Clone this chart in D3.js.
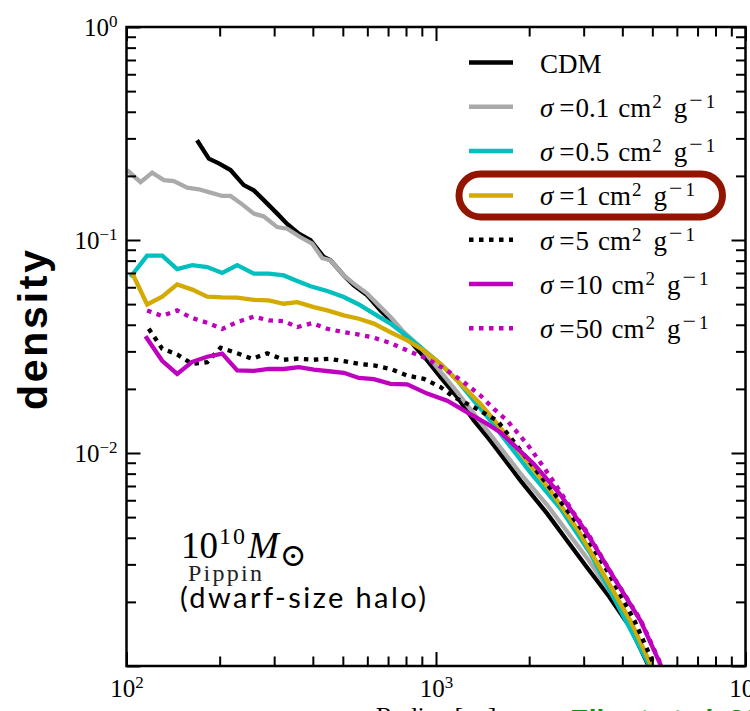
<!DOCTYPE html>
<html>
<head>
<meta charset="utf-8">
<script src="https://cdn.jsdelivr.net/npm/d3@7"></script>
<style>
  body { margin: 0; background: #fff; }
  svg { display: block; }
</style>
</head>
<body>
<svg id="chart" width="750" height="711"></svg>
<script>
// Density profiles of the Pippin dwarf halo: [radius (pc), density]
const cdm = [[169,0.294],[184.5,0.241],[198.7,0.229],[216.8,0.213],[239.3,0.181],[257.8,0.171],[281.3,0.151],[306.9,0.133],[330.5,0.119],[360.4,0.107],[393.2,0.0997],[434.1,0.0832],[456.3,0.0803],[503.6,0.0682],[542.6,0.0612],[599.6,0.0550],[661.9,0.0467],[722,0.0412],[787.2,0.0363],[847.9,0.0320],[936.7,0.0272],[1034,0.0227],[1171,0.0183],[1325,0.0142],[1500,0.0114],[1875,0.00742],[2287,0.00519],[2654,0.00387],[3081,0.00289],[3574,0.00218],[4250,0.00151],[4896,0.00098]];
const sigma01 = [[100.5,0.213],[111,0.187],[121.1,0.207],[132,0.191],[142.2,0.189],[157.1,0.176],[171.3,0.173],[186.8,0.167],[203.8,0.161],[216.8,0.161],[236.6,0.147],[257.8,0.133],[277.8,0.129],[306.9,0.115],[330.5,0.113],[365,0.103],[398.1,0.0962],[428.9,0.0823],[456.3,0.0803],[503.6,0.0682],[542.6,0.0624],[599.6,0.0560],[661.9,0.0484],[712.9,0.0435],[787.2,0.0369],[891.2,0.0314],[1034,0.0241],[1171,0.0193],[1325,0.0153],[1500,0.0122],[1875,0.0080],[2287,0.0057],[3081,0.0032],[3663,0.00222],[4314,0.00152],[4932,0.00098]];
const sigma05 = [[103,0.067],[116.6,0.0845],[130.4,0.0845],[145.8,0.073],[163.1,0.0762],[182.3,0.0746],[203.8,0.0700],[227.9,0.0762],[257.8,0.0695],[288.3,0.0695],[322.2,0.0682],[356.1,0.0642],[393.2,0.0606],[445.2,0.0576],[503.6,0.0540],[563.2,0.0498],[629.8,0.0451],[712.9,0.0405],[787.2,0.0363],[891.2,0.0314],[1034,0.0262],[1171,0.0219],[1325,0.0176],[1500,0.0142],[1698,0.0112],[2020,0.00809],[2525,0.00548],[3157,0.00336],[3802,0.00202],[4932,0.00098]];
const sigma1 = [[104.3,0.0700],[116.6,0.0498],[130.4,0.0542],[145.8,0.0619],[163.1,0.0585],[182.3,0.0542],[203.8,0.0538],[227.9,0.0536],[257.8,0.0524],[288.3,0.0521],[322.2,0.0502],[356.1,0.0511],[402.9,0.0484],[445.2,0.0467],[503.6,0.0443],[563.2,0.0427],[629.8,0.0405],[712.9,0.0369],[807.4,0.0338],[913.3,0.0303],[1034,0.0262],[1230,0.0204],[1393,0.0170],[1577,0.0137],[1875,0.0100],[2344,0.00665],[2887,0.00432],[3503,0.00265],[4250,0.00163],[5006,0.00098]];
const sigma5 = [[118,0.0383],[130.4,0.0309],[145.8,0.0290],[163.1,0.0262],[182.3,0.0267],[201.3,0.0312],[227.9,0.0294],[254.8,0.0277],[284.9,0.0294],[322.2,0.0274],[356.1,0.0277],[402.9,0.0274],[450.6,0.0277],[503.6,0.0270],[563.2,0.0262],[629.8,0.0258],[712.9,0.0248],[807.4,0.0231],[913.3,0.0223],[1034,0.0204],[1142,0.0183],[1325,0.0164],[1577,0.0142],[1875,0.0103],[2344,0.00680],[2930,0.00446],[3609,0.00274],[4379,0.00163],[5119,0.00098]];
const sigma10 = [[115.2,0.0353],[130.4,0.0271],[145.8,0.0235],[163.1,0.0268],[182.3,0.0283],[203.8,0.0293],[227.9,0.0244],[257.8,0.0243],[288.3,0.0248],[322.2,0.0248],[360.4,0.0253],[402.9,0.0246],[450.6,0.0242],[503.6,0.0238],[563.2,0.0225],[629.8,0.0222],[712.9,0.0211],[807.4,0.0210],[936.7,0.0190],[1087,0.0176],[1262,0.0155],[1464,0.0137],[1616,0.0125],[2070,0.00889],[2525,0.00637],[3081,0.00418],[3754,0.00260],[4580,0.00163],[5373,0.00098]];
const sigma50 = [[116.6,0.0467],[130.4,0.0440],[145.8,0.0467],[163.1,0.0430],[182.3,0.0409],[203.8,0.0382],[227.9,0.0412],[257.8,0.0437],[288.3,0.0419],[322.2,0.0416],[356.1,0.0390],[398.1,0.0407],[445.2,0.0383],[503.6,0.0369],[563.2,0.0360],[629.8,0.0348],[712.9,0.0328],[807.4,0.0303],[936.7,0.0277],[1087,0.0244],[1230,0.0215],[1393,0.0186],[1538,0.0161],[1698,0.0142],[1971,0.0110],[2231,0.00857],[2470,0.00688],[2781,0.00525],[3087,0.00422],[3746,0.00262],[4580,0.00165],[5394,0.00098]];

// Legend entries: cross-section label (null = CDM), colour, dotted flag
const crossSections = [null, "0.1", "0.5", "1", "5", "10", "50"];
const seriesColors = ["#000000", "#aaaaaa", "#00bfbf", "#d4aa00", "#000000", "#bf00bf", "#bf00bf"];
const seriesDotted = [false, false, false, false, true, false, true];
const seriesData = [cdm, sigma01, sigma05, sigma1, sigma5, sigma10, sigma50];

const xDomain = [100, 10000];
const yDomain = [1e-3, 1];
const yLabelled = [1, 0.1, 0.01];

const svg = d3.select("#chart");
svg.append("rect").attr("width", 750).attr("height", 711).attr("fill", "#fff");

const plotLeft = 126.5, plotRight = 745.5, plotTop = 27, plotBottom = 666;
const x = d3.scaleLog().domain(xDomain).range([plotLeft, plotRight]);
const y = d3.scaleLog().domain(yDomain).range([plotBottom, plotTop]);

const serif = "'Liberation Serif', 'DejaVu Serif', serif";

// clip for the curves
svg.append("defs").append("clipPath").attr("id", "plotClip")
  .append("rect").attr("x", plotLeft).attr("y", plotTop)
  .attr("width", plotRight - plotLeft).attr("height", plotBottom - plotTop);

// curves
const line = d3.line().x(d => x(d[0])).y(d => y(d[1]));
const curves = svg.append("g").attr("clip-path", "url(#plotClip)");
seriesData.forEach((data, i) => {
  curves.append("path")
    .datum(data)
    .attr("d", line)
    .attr("fill", "none")
    .attr("stroke", seriesColors[i])
    .attr("stroke-width", 4.3)
    .attr("stroke-linejoin", "miter")
    .attr("stroke-dasharray", seriesDotted[i] ? "4.5,5.5" : null);
});

// axes: inward ticks on all four sides
const isMajor = v => Math.abs(Math.log10(v) - Math.round(Math.log10(v))) < 1e-9;
const xMajor = x.ticks().filter(isMajor), xMinor = x.ticks().filter(v => !isMajor(v));
const yMajor = y.ticks().filter(isMajor), yMinor = y.ticks().filter(v => !isMajor(v));
const majorLen = 14, minorLen = 9.5;

function styleAxis(g) {
  g.select(".domain").remove();
  g.selectAll(".tick line").attr("stroke", "#000").attr("stroke-width", 2);
}
function powerLabel(g) {
  g.selectAll(".tick text").each(function(d) {
    const t = d3.select(this);
    const e = Math.round(Math.log10(d));
    t.text(null);
    t.append("tspan").text("10");
    t.append("tspan").attr("dy", -9).attr("font-size", 17).text(e < 0 ? "\u2212" + (-e) : String(e));
  });
}

// bottom
svg.append("g").attr("transform", `translate(0,${plotBottom})`)
  .call(d3.axisBottom(x).tickValues(xMinor).tickSize(-minorLen).tickFormat(""))
  .call(styleAxis);
svg.append("g").attr("transform", `translate(0,${plotBottom})`)
  .call(d3.axisBottom(x).tickValues(xMajor).tickSize(-majorLen).tickPadding(13))
  .call(styleAxis)
  .call(g => g.selectAll(".tick text").attr("font-family", serif).attr("font-size", 25).attr("fill", "#000"))
  .call(powerLabel);
// top
svg.append("g").attr("transform", `translate(0,${plotTop})`)
  .call(d3.axisTop(x).tickValues(xMinor).tickSize(-minorLen).tickFormat(""))
  .call(styleAxis);
svg.append("g").attr("transform", `translate(0,${plotTop})`)
  .call(d3.axisTop(x).tickValues(xMajor).tickSize(-majorLen).tickFormat(""))
  .call(styleAxis);
// left
svg.append("g").attr("transform", `translate(${plotLeft},0)`)
  .call(d3.axisLeft(y).tickValues(yMinor).tickSize(-minorLen).tickFormat(""))
  .call(styleAxis);
svg.append("g").attr("transform", `translate(${plotLeft},0)`)
  .call(d3.axisLeft(y).tickValues(yMajor).tickSize(-majorLen).tickFormat(""))
  .call(styleAxis);
svg.append("g").attr("transform", `translate(${plotLeft},0)`)
  .call(d3.axisLeft(y).tickValues(yLabelled).tickSize(0).tickPadding(9))
  .call(styleAxis)
  .call(g => g.selectAll(".tick text").attr("font-family", serif).attr("font-size", 25).attr("fill", "#000"))
  .call(powerLabel);
// right
svg.append("g").attr("transform", `translate(${plotRight},0)`)
  .call(d3.axisRight(y).tickValues(yMinor).tickSize(-minorLen).tickFormat(""))
  .call(styleAxis);
svg.append("g").attr("transform", `translate(${plotRight},0)`)
  .call(d3.axisRight(y).tickValues(yMajor).tickSize(-majorLen).tickFormat(""))
  .call(styleAxis);

// frame
svg.append("rect").attr("x", plotLeft).attr("y", plotTop)
  .attr("width", plotRight - plotLeft).attr("height", plotBottom - plotTop)
  .attr("fill", "none").attr("stroke", "#000").attr("stroke-width", 2.5);

// axis titles
svg.append("text")
  .attr("transform", "translate(47,330) rotate(-90)")
  .attr("text-anchor", "middle")
  .attr("font-family", "'Liberation Sans', Arial, sans-serif")
  .attr("font-weight", "bold").attr("font-size", 41)
  .attr("textLength", 160).attr("lengthAdjust", "spacing")
  .text("density");

svg.append("text")
  .attr("x", x(1000)).attr("y", 725)
  .attr("text-anchor", "middle")
  .attr("font-family", serif).attr("font-size", 26)
  .text("Radius [pc]");

svg.append("text")
  .attr("x", 570).attr("y", 729)
  .attr("font-family", "'Liberation Sans', Arial, sans-serif")
  .attr("font-weight", "bold").attr("font-size", 28)
  .attr("fill", "#009a00")
  .text("Elbert et al. 2015");

// legend
const legendX0 = 469, legendX1 = 513, legendTextX = 540, legendY0 = 62.5, legendStep = 44.3;
const legend = svg.append("g");
crossSections.forEach((cs, i) => {
  const ly = legendY0 + i * legendStep;
  legend.append("line")
    .attr("x1", legendX0).attr("x2", legendX1).attr("y1", ly).attr("y2", ly)
    .attr("stroke", seriesColors[i]).attr("stroke-width", 4.5)
    .attr("stroke-dasharray", seriesDotted[i] ? "4.5,5.5" : null);
  const t = legend.append("text")
    .attr("x", legendTextX).attr("y", ly + 10)
    .attr("font-family", serif).attr("font-size", 27).attr("fill", "#000");
  if (cs === null) {
    t.text("CDM");
  } else {
    t.append("tspan").attr("font-style", "italic").text("\u03c3");
    t.append("tspan").attr("dx", 6).text("=");
    t.append("tspan").attr("dx", 1).text(cs);
    t.append("tspan").attr("dx", 9).text("cm");
    t.append("tspan").attr("dx", 1).attr("dy", -9).attr("font-size", 19).text("2");
    t.append("tspan").attr("dx", 12).attr("dy", 9).text("g");
    t.append("tspan").attr("dx", 2).attr("dy", -9).attr("font-size", 24).text("\u2212");
    t.append("tspan").attr("dx", 3).attr("font-size", 19).text("1");
  }
});

// highlight around the σ = 1 entry
const hiY = legendY0 + 3 * legendStep;
legend.append("rect")
  .attr("x", 459).attr("y", hiY - 21.5)
  .attr("width", 263.5).attr("height", 43)
  .attr("rx", 21.5).attr("ry", 21.5)
  .attr("fill", "none").attr("stroke", "#921500").attr("stroke-width", 7);

// halo annotation
const note = svg.append("text").attr("x", 181).attr("y", 558)
  .attr("font-family", serif).attr("font-size", 37).attr("fill", "#000");
note.append("tspan").text("10");
note.append("tspan").attr("dx", 1).attr("dy", -14).attr("font-size", 24).attr("letter-spacing", 2).text("10");
note.append("tspan").attr("dx", 1).attr("dy", 14).attr("font-style", "italic").text("M");
note.append("tspan").attr("dx", 1).attr("dy", 8).attr("font-size", 32).text("\u2299");

svg.append("text").attr("x", 188).attr("y", 581)
  .attr("font-family", serif).attr("font-size", 24).attr("fill", "#222")
  .attr("textLength", 74).attr("lengthAdjust", "spacing")
  .text("Pippin");

svg.append("text").attr("x", 180).attr("y", 608)
  .attr("font-family", "Lato, 'Open Sans', sans-serif").attr("font-size", 29)
  .attr("textLength", 246).attr("lengthAdjust", "spacing")
  .text("(dwarf-size halo)");
</script>
</body>
</html>
